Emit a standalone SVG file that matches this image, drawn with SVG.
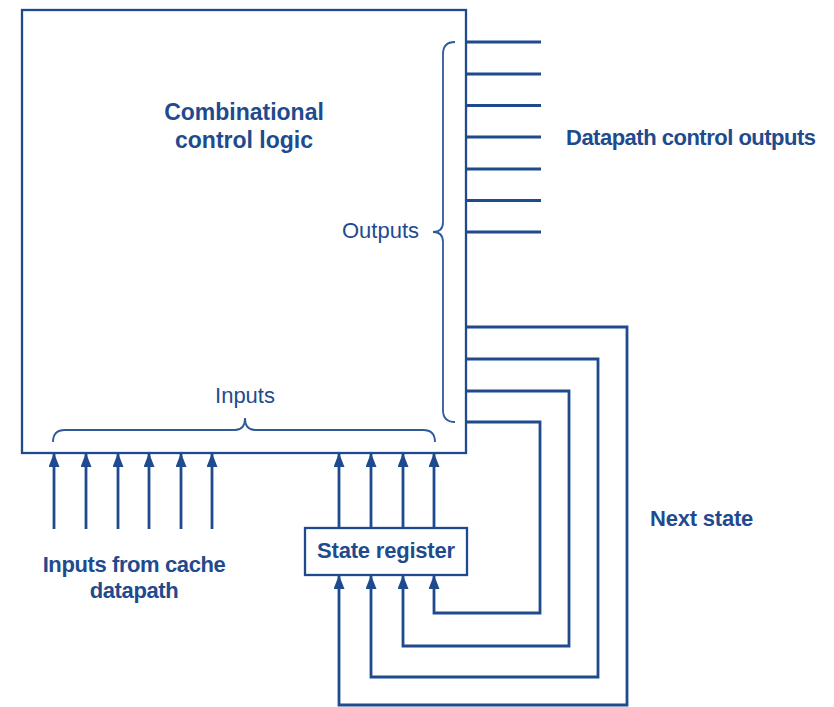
<svg xmlns="http://www.w3.org/2000/svg" width="834" height="707" viewBox="0 0 834 707">
<style>
  .box { fill: #ffffff; stroke: #1f4b8e; stroke-width: 2.3; }
  .wire { fill: none; stroke: #1f4b8e; stroke-width: 2.8; }
  .arrow { fill: none; stroke: #1f4b8e; stroke-width: 2.8; marker-end: url(#ah); }
  .brace { fill: none; stroke: #2f5a98; stroke-width: 1.8; }
  .bold { font-family: "Liberation Sans", Arial, sans-serif; font-weight: bold; fill: #1f4b8e; }
  .reg { font-family: "Liberation Sans", Arial, sans-serif; fill: #1f4b8e; }
</style>
<defs>
  <marker id="ah" viewBox="0 0 14 11" refX="13" refY="5.5" markerWidth="14" markerHeight="11" markerUnits="userSpaceOnUse" orient="auto">
    <path d="M0,0 L14,5.5 L0,11 Z" fill="#1f4b8e"/>
  </marker>
</defs>
<rect width="834" height="707" fill="#ffffff"/>

<g id="combinational-control-logic">
  <rect class="box" x="22" y="10" width="444" height="443"/>
  <text class="bold" x="244" y="120" font-size="23" text-anchor="middle">Combinational</text>
  <text class="bold" x="244" y="148" font-size="23" text-anchor="middle">control logic</text>
  <text class="reg" x="419" y="238" font-size="22" text-anchor="end">Outputs</text>
  <text class="reg" x="245" y="403" font-size="22" text-anchor="middle">Inputs</text>
  <path class="brace" d="M455,42 Q443,42 443,54 L443,222 Q443,232 433,232 Q443,232 443,242 L443,410 Q443,422 455,422"/>
  <path class="brace" d="M53,442 Q53,430 65,430 L235,430 Q245,430 245,418 Q245,430 255,430 L423,430 Q435,430 435,442"/>
</g>

<g id="state-register">
  <rect class="box" x="305" y="528" width="162" height="47"/>
  <text class="bold" x="386" y="558" font-size="22" text-anchor="middle" letter-spacing="-0.2">State register</text>
</g>

<g id="datapath-control-outputs-label">
  <text class="bold" x="566" y="145" font-size="22" letter-spacing="-0.5">Datapath control outputs</text>
</g>

<g id="next-state-label">
  <text class="bold" x="650" y="526" font-size="22" letter-spacing="-0.2">Next state</text>
</g>

<g id="inputs-from-cache-label">
  <text class="bold" x="134" y="572" font-size="22" text-anchor="middle" letter-spacing="-0.4">Inputs from cache</text>
  <text class="bold" x="134" y="598" font-size="22" text-anchor="middle" letter-spacing="-0.4">datapath</text>
</g>

<g id="connectors">
  <path class="wire" d="M466,42 H541 M466,74 H541 M466,105.5 H541 M466,137 H541 M466,169 H541 M466,200.5 H541 M466,232 H541"/>
  <line class="arrow" x1="54" y1="529" x2="54" y2="454"/>
  <line class="arrow" x1="86" y1="529" x2="86" y2="454"/>
  <line class="arrow" x1="118" y1="529" x2="118" y2="454"/>
  <line class="arrow" x1="149" y1="529" x2="149" y2="454"/>
  <line class="arrow" x1="181" y1="529" x2="181" y2="454"/>
  <line class="arrow" x1="212" y1="529" x2="212" y2="454"/>
  <line class="arrow" x1="339" y1="528" x2="339" y2="454"/>
  <line class="arrow" x1="371" y1="528" x2="371" y2="454"/>
  <line class="arrow" x1="403" y1="528" x2="403" y2="454"/>
  <line class="arrow" x1="434" y1="528" x2="434" y2="454"/>
  <path class="arrow" d="M466,327 H627 V705 H339 V576"/>
  <path class="arrow" d="M466,359 H598 V677 H371 V576"/>
  <path class="arrow" d="M466,391 H569 V646 H403 V576"/>
  <path class="arrow" d="M466,422 H540 V613 H434 V576"/>
</g>
</svg>
